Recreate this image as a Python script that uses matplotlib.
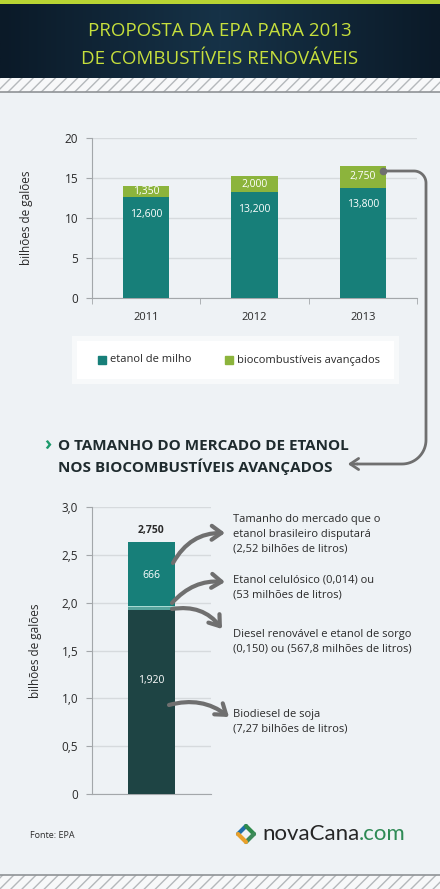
import numpy as np
import matplotlib
matplotlib.use("Agg")
import matplotlib.pyplot as plt
from matplotlib.patches import Rectangle

plt.rcParams['font.family'] = ['Open Sans', 'DejaVu Sans']

# ---------------------------------------------------------------
# data
# ---------------------------------------------------------------
years = ["2011", "2012", "2013"]
etanol_milho = [12.6, 13.2, 13.8]          # bilhoes de galoes
biocomb_avancados = [1.35, 2.0, 2.75]

# 2013 advanced biofuels breakdown (bottom -> top), heights as drawn
seg_names = ["Biodiesel de soja", "Diesel renovável e etanol de sorgo",
             "Etanol celulósico", "Etanol brasileiro"]
seg_heights = [1.920, 0.035, 0.015, 0.666]
seg_labels = ["1,920", None, None, "666"]
total_2013 = "2,750"

y1_ticks = [0, 5, 10, 15, 20]
y2_ticks = [0, 0.5, 1.0, 1.5, 2.0, 2.5, 3.0]
y2_ticklabels = ["0", "0,5", "1,0", "1,5", "2,0", "2,5", "3,0"]

notes = [
    "Tamanho do mercado que o\netanol brasileiro disputará\n(2,52 bilhões de litros)",
    "Etanol celulósico (0,014) ou\n(53 milhões de litros)",
    "Diesel renovável e etanol de sorgo\n(0,150) ou (567,8 milhões de litros)",
    "Biodiesel de soja\n(7,27 bilhões de litros)",
]

# colours
BG = "#eef2f5"
TEAL = "#177f79"
GREEN = "#8cb43c"
DARK = "#1e4444"
MID = "#56a39c"
LIGHT = "#a8dad2"
GRID = "#d6dadd"
SPINE = "#a3a7aa"
TXT = "#2a2a2a"
ARROW = "#6f6f6f"

W, H = 440, 889
fig = plt.figure(figsize=(W / 100, H / 100), dpi=100)
fig.patch.set_facecolor(BG)


def fx(px):
    return px / W


def fy(py):
    return 1 - py / H


# background overlay in pixel coords
bg = fig.add_axes([0, 0, 1, 1], zorder=0)
bg.axis("off")
bg.patch.set_alpha(0)

# header
bg.add_patch(Rectangle((0, 0), W, 4, color="#b8d433", lw=0))
grad = np.abs(np.linspace(-1, 1, 200))[None, :]
bg.imshow(grad, extent=(0, W, 78, 4), aspect="auto",
          cmap=matplotlib.colors.LinearSegmentedColormap.from_list(
              "hd", ["#163247", "#0b1a28"]), zorder=1)
bg.set_xlim(0, W)
bg.set_ylim(H, 0)

# hatched strips
plt.rcParams['hatch.linewidth'] = 1.0
for y0, line_y in [(78, 92), (875, 875)]:
    bg.add_patch(Rectangle((0, y0), W, 14, facecolor="#f7f8f9",
                           edgecolor="#b4b8bb", hatch="///", lw=0, zorder=1))
    bg.plot([0, W], [line_y, line_y], color="#8f9396", lw=1.2, zorder=2)

bg.text(220, 31, "PROPOSTA DA EPA PARA 2013", color="#c6df3c",
        fontsize=13.5, ha="center", va="center", zorder=3)
bg.text(220, 59, "DE COMBUSTÍVEIS RENOVÁVEIS", color="#c6df3c",
        fontsize=13.5, ha="center", va="center", zorder=3)

# ---------------------------------------------------------------
# top chart
# ---------------------------------------------------------------
ax1 = fig.add_axes([fx(92), fy(298), fx(417 - 92), 160 / H], zorder=2)
ax1.set_facecolor("none")
x = np.arange(len(years))
bw = 0.43
ax1.bar(x, etanol_milho, bw, color=TEAL, zorder=3)
ax1.bar(x, biocomb_avancados, bw, bottom=etanol_milho, color=GREEN, zorder=3)
for i in range(len(years)):
    ax1.text(x[i], etanol_milho[i] - 2.1, f"{etanol_milho[i] * 1000:,.0f}",
             color="white", fontsize=7.5, ha="center", va="center", zorder=4)
    ax1.text(x[i], etanol_milho[i] + biocomb_avancados[i] / 2,
             f"{biocomb_avancados[i] * 1000:,.0f}",
             color="white", fontsize=7.5, ha="center", va="center", zorder=4)
ax1.set_xlim(-0.5, 2.5)
ax1.set_ylim(0, 20)
ax1.set_yticks(y1_ticks)
ax1.set_xticks(x)
ax1.set_xticklabels(years)
ax1.set_xticks([-0.5, 0.5, 1.5, 2.5], minor=True)
ax1.tick_params(axis="x", which="major", length=0, pad=10, labelsize=8, colors=TXT)
ax1.tick_params(axis="x", which="minor", length=4, color=SPINE)
ax1.tick_params(axis="y", length=4, color=SPINE, labelsize=8.5, labelcolor=TXT, pad=6)
ax1.grid(axis="y", color=GRID, lw=1, zorder=0)
for s in ["top", "right"]:
    ax1.spines[s].set_visible(False)
for s in ["left", "bottom"]:
    ax1.spines[s].set_color(SPINE)
ax1.set_ylabel("bilhões de galões", fontsize=8.5, color=TXT, labelpad=23)

# legend box
bg.add_patch(Rectangle((72, 336), 327, 48, facecolor="#f7f9fa",
                       edgecolor="none", zorder=1))
bg.add_patch(Rectangle((77, 341), 317, 38, facecolor="white",
                       edgecolor="none", zorder=1))
for sx, col, lab in [(102, TEAL, "etanol de milho"),
                     (229, GREEN, "biocombustíveis avançados")]:
    bg.add_patch(Rectangle((sx - 4, 356), 8, 8, color=col, zorder=2))
    bg.text(sx + 8, 360, lab, fontsize=8, color=TXT, va="center", zorder=3)

# connector from 2013 to section 2
def arc(cx, cy, r, a0, a1, n=20):
    t = np.radians(np.linspace(a0, a1, n))
    return cx + r * np.cos(t), cy + r * np.sin(t)

ax_, ay_ = arc(414, 183, 12, -90, 0)
bx_, by_ = arc(402, 440, 24, 0, 90)
px = np.concatenate([[383], ax_, bx_, [358]])
py = np.concatenate([[171], ay_, by_, [464]])
fg = fig.add_axes([0, 0, 1, 1], zorder=5)
fg.set_xlim(0, W)
fg.set_ylim(H, 0)
fg.axis("off")
fg.patch.set_alpha(0)
fg.plot(px, py, color=ARROW, lw=2)
fg.plot([383], [171], "o", color=ARROW, ms=4.5)
fg.annotate("", xy=(345, 464), xytext=(360, 464),
            arrowprops=dict(arrowstyle="->,head_length=0.6,head_width=0.4",
                            color=ARROW, lw=2))

# section title
fg.text(44, 446, "›", color="#1d9a6c", fontsize=14, fontweight="bold",
        va="center", ha="left")
fg.text(58, 446, "O TAMANHO DO MERCADO DE ETANOL", color="#1f2b2e",
        fontsize=11, fontweight="bold", va="center")
fg.text(58, 467, "NOS BIOCOMBUSTÍVEIS AVANÇADOS", color="#1f2b2e",
        fontsize=11, fontweight="bold", va="center")

# ---------------------------------------------------------------
# bottom chart
# ---------------------------------------------------------------
ax2 = fig.add_axes([fx(92), fy(794), fx(211 - 92), (794 - 507) / H], zorder=2)
ax2.set_facecolor("none")
seg_cols = [DARK, MID, LIGHT, TEAL]
bottom = 0.0
for h, c, lab in zip(seg_heights, seg_cols, seg_labels):
    ax2.bar(0, h, 0.39, bottom=bottom, color=c, zorder=3)
    if lab:
        ax2.text(0, bottom + h * 0.62 if h > 1 else bottom + h * 0.47, lab,
                 color="white", fontsize=7.5, ha="center", va="center", zorder=4)
    bottom += h
ax2.text(0, bottom + 0.12, total_2013, color=TXT, fontsize=7.5,
         fontweight="bold", ha="center", va="center")
ax2.set_xlim(-0.5, 0.5)
ax2.set_ylim(0, 3)
ax2.set_yticks(y2_ticks)
ax2.set_yticklabels(y2_ticklabels)
ax2.set_xticks([])
ax2.tick_params(axis="y", length=4, color=SPINE, labelsize=8.5, labelcolor=TXT, pad=6)
ax2.grid(axis="y", color=GRID, lw=1, zorder=0)
for s in ["top", "right"]:
    ax2.spines[s].set_visible(False)
for s in ["left", "bottom"]:
    ax2.spines[s].set_color(SPINE)
ax2.set_ylabel("bilhões de galões", fontsize=8.5, color=TXT, labelpad=14)

# notes and curved arrows
note_y = [522, 583, 637, 717]
for ny, txt in zip(note_y, notes):
    fg.text(233, ny - 8, txt, fontsize=8, color=TXT, va="top", ha="left",
            linespacing=1.45)

arrow_kw = dict(arrowstyle="->,head_length=0.7,head_width=0.5",
                color=ARROW, lw=3, shrinkA=0, shrinkB=0)
arrows = [((173, 563), (225, 533), -0.3),
          ((172, 603), (225, 582), -0.25),
          ((172, 609), (222, 629), -0.3),
          ((169, 705), (229, 717), -0.25)]
for (sx, sy), (ex, ey), rad in arrows:
    fg.annotate("", xy=(ex, ey), xytext=(sx, sy),
                arrowprops=dict(connectionstyle=f"arc3,rad={rad}", **arrow_kw))

# footer
fg.text(30, 835, "Fonte: EPA", fontsize=6.5, color=TXT, va="center")
cx, cy, r = 246, 834, 8
edges = [((cx - r, cy), (cx, cy - r), "#1f6fa8"),
         ((cx, cy - r), (cx + r, cy), "#2f8a4c"),
         ((cx + r, cy), (cx, cy + r), "#3d8a5a"),
         ((cx, cy + r), (cx - r, cy), "#e9a02a")]
for (x0, y0), (x1, y1), c in edges:
    fg.plot([x0, x1], [y0, y1], color=c, lw=3, solid_capstyle="round")
t1 = fg.text(262, 834, "novaCana", fontsize=16, color="#262626",
             va="center", ha="left", family="Lato")
fig.canvas.draw()
bb = t1.get_window_extent()
xe = fg.transData.inverted().transform((bb.x1, bb.y0))[0]
fg.text(xe, 834, ".com", fontsize=16, color="#2e8a55", va="center",
        ha="left", family="Lato")

fig.savefig("out.png", dpi=100, facecolor=BG)
